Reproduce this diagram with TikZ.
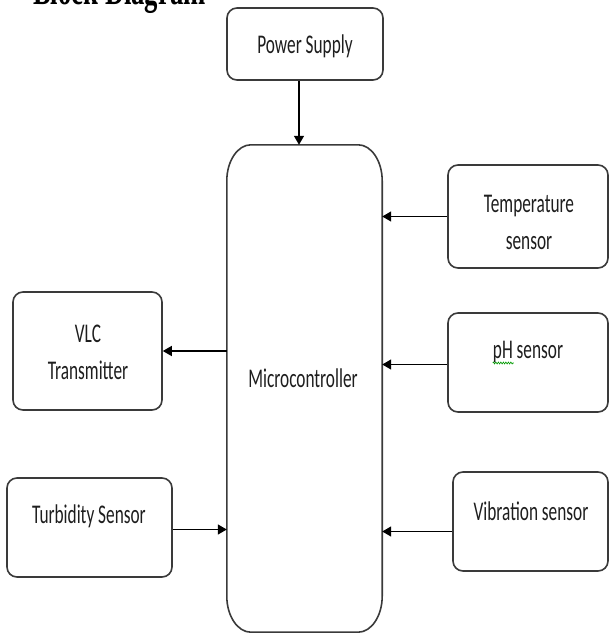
\documentclass[tikz,border=0pt]{standalone}
\usepackage{fontspec}
\newfontfamily\lblfont[FakeStretch=0.64]{Carlito}
\newfontfamily\ttlfont[FakeStretch=0.65]{Liberation Serif}
\usetikzlibrary{arrows.meta,decorations.pathmorphing}
\definecolor{boxc}{HTML}{3A3A3A}
\definecolor{txtc}{HTML}{1E1E1E}
\begin{document}
\begin{tikzpicture}[x=1pt,y=-1pt,
  box/.style={draw=boxc, line width=1.6pt, rounded corners=10pt, inner sep=0pt},
  lbl/.style={font=\lblfont\fontsize{27}{37}\selectfont, text=txtc, inner sep=0pt, align=center},
  arr/.style={-{Triangle[length=9pt,width=10pt]}, line width=1.4pt, black}]
\useasboundingbox (0,0) rectangle (609,633);
% title
\node[anchor=base west, font=\ttlfont\bfseries\fontsize{41}{41}\selectfont, inner sep=0pt] (title) at (33,4) {Block Diagram};
% boxes
\node[box, minimum width=156pt, minimum height=72pt] (ps) at (305,44) {};
\node[box, minimum width=160pt, minimum height=103pt] (temp) at (528,216.5) {};
\node[box, minimum width=160pt, minimum height=99pt] (ph) at (528,362.5) {};
\node[box, minimum width=155pt, minimum height=99pt] (vib) at (530.5,521.5) {};
\node[box, minimum width=149pt, minimum height=118pt] (vlc) at (87.5,351) {};
\node[box, minimum width=165pt, minimum height=99pt] (turb) at (89.5,527.5) {};
\node[minimum width=155pt, minimum height=487pt, inner sep=0pt] (mc) at (304.5,388.5) {};
\draw[boxc, line width=1.6pt]
  ([yshift=-36pt]mc.north west) .. controls +(0pt,20pt) and +(-13pt,0pt) .. ([xshift=24pt]mc.north west)
  -- ([xshift=-24pt]mc.north east) .. controls +(13pt,0pt) and +(0pt,20pt) .. ([yshift=-36pt]mc.north east)
  -- ([yshift=36pt]mc.south east) .. controls +(0pt,-20pt) and +(13pt,0pt) .. ([xshift=-24pt]mc.south east)
  -- ([xshift=24pt]mc.south west) .. controls +(-13pt,0pt) and +(0pt,-20pt) .. ([yshift=36pt]mc.south west)
  -- cycle;
% texts
\node[lbl, anchor=base] (psT) at (305,53) {Power Supply};
\node[lbl] (tempT) at (529,222) {Temperature\\sensor};
\node[lbl, anchor=base] (phT) at (528,358) {pH sensor};
\node[lbl, anchor=base] (vibT) at (531,520) {Vibration sensor};
\node[lbl] (vlcT) at (88,352) {VLC\\Transmitter};
\node[lbl, anchor=base] (turbT) at (89,523) {Turbidity Sensor};
\node[lbl, anchor=base] (mcT) at (303,387) {Microcontroller};
\draw[green!60!black, line width=0.6pt, decorate, decoration={zigzag, amplitude=1pt, segment length=2.5pt}]
  ([yshift=-5pt]phT.base west) -- ++(21pt,0pt);
% connectors
\draw[arr] ([xshift=-6pt]ps.south) -- ([xshift=-6pt]ps.south |- mc.north);
\draw[arr] (temp.west) -- (temp.west -| mc.east);
\draw[arr] ([yshift=-2pt]ph.west) -- ([yshift=-2pt]ph.west -| mc.east);
\draw[arr] ([yshift=-10pt]vib.west) -- ([yshift=-10pt]vib.west -| mc.east);
\draw[arr] (vlc.east -| mc.west) -- (vlc.east);
\draw[arr] ([yshift=-2pt]turb.east) -- ([yshift=-2pt]turb.east -| mc.west);
\end{tikzpicture}
\end{document}
